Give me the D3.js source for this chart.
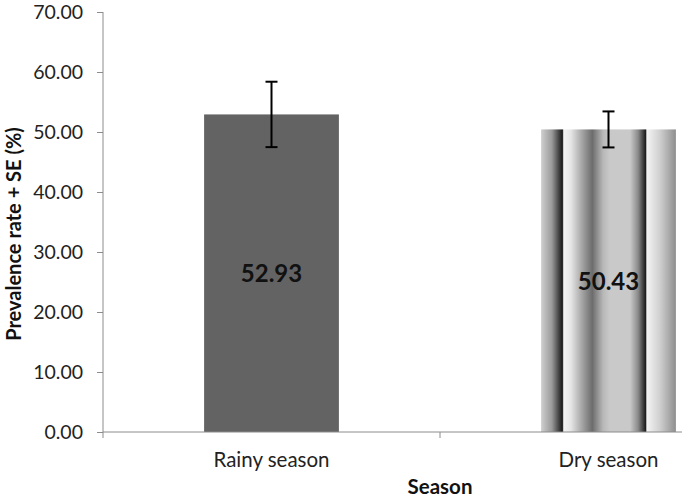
<!DOCTYPE html>
<html><head><meta charset="utf-8">
<script src="https://cdn.jsdelivr.net/npm/d3@7"></script>
<style>body{margin:0;background:#fff}svg{display:block}</style>
</head><body>
<svg id="c" width="682" height="499"></svg>
<script>
const categories = ["Rainy season", "Dry season"];
const values = [52.93, 50.43];
const errors = [5.45, 3.0];
const yTicks = [0, 10, 20, 30, 40, 50, 60, 70];

const svg = d3.select("#c");
const font = "Lato, 'Open Sans', sans-serif";
const x0 = 103, x1 = 777, yBot = 432, yTop = 12;
const x = d3.scaleBand().domain(categories).range([x0, x1]).paddingInner(0.6).paddingOuter(0.3);
const y = d3.scaleLinear().domain([0, 70]).range([yBot, yTop]);

// gradient for dry season bar
const defs = svg.append("defs");
const g = defs.append("linearGradient").attr("id", "dryGrad").attr("x1", "0").attr("x2", "1").attr("y1", "0").attr("y2", "0");
[[0, "#cfcfcf"], [0.08, "#9a9a9a"], [0.15, "#262626"], [0.158, "#1a1a1a"], [0.168, "#f4f4f4"], [0.22, "#e6e6e6"], [0.3, "#a8a8a8"], [0.38, "#6c6c6c"], [0.46, "#b8b8b8"], [0.51, "#c9c9c9"], [0.66, "#c9c9c9"], [0.72, "#8a8a8a"], [0.77, "#262626"], [0.775, "#1e1e1e"], [0.785, "#f4f4f4"], [0.88, "#d0d0d0"], [1, "#8e8e8e"]]
  .forEach(([o, c]) => g.append("stop").attr("offset", o).attr("stop-color", c));

const fills = ["#636363", "url(#dryGrad)"];

// bars
svg.selectAll("rect.bar").data(categories).enter().append("rect")
  .attr("x", d => x(d)).attr("width", x.bandwidth())
  .attr("y", (d, i) => y(values[i])).attr("height", (d, i) => yBot - y(values[i]))
  .attr("fill", (d, i) => fills[i]);

// axes
const axisColor = "#8c8c8c";
const yAxis = svg.append("g").attr("transform", `translate(${x0},0)`)
  .call(d3.axisLeft(y).tickValues(yTicks).tickFormat(d3.format(".2f")).tickSize(6).tickPadding(14));
yAxis.select(".domain").attr("stroke", axisColor).attr("d", `M0,${yTop}V${yBot}`);
yAxis.selectAll(".tick line").attr("stroke", axisColor);
yAxis.selectAll(".tick text").attr("font-family", font).attr("font-size", 19.5).attr("fill", "#222");

const xAxisG = svg.append("g").attr("transform", `translate(0,${yBot})`);
xAxisG.append("line").attr("x1", x0).attr("x2", 682).attr("stroke", axisColor);
xAxisG.selectAll("line.t").data([x0, (x(categories[0]) + x.bandwidth() + x(categories[1])) / 2]).enter().append("line")
  .attr("x1", d => d).attr("x2", d => d).attr("y1", 0).attr("y2", 6).attr("stroke", axisColor);
xAxisG.selectAll("text").data(categories).enter().append("text")
  .attr("x", d => x(d) + x.bandwidth() / 2).attr("y", 35).attr("text-anchor", "middle")
  .attr("font-family", font).attr("font-size", 20.5).attr("fill", "#222").text(d => d);

// error bars
const eb = svg.selectAll("g.err").data(categories).enter().append("g").attr("stroke", "#000").attr("stroke-width", 2);
eb.append("line").attr("x1", d => x(d) + x.bandwidth() / 2).attr("x2", d => x(d) + x.bandwidth() / 2)
  .attr("y1", (d, i) => y(values[i] + errors[i])).attr("y2", (d, i) => y(values[i] - errors[i]));
eb.append("line").attr("x1", d => x(d) + x.bandwidth() / 2 - 6).attr("x2", d => x(d) + x.bandwidth() / 2 + 6)
  .attr("y1", (d, i) => y(values[i] + errors[i])).attr("y2", (d, i) => y(values[i] + errors[i]));
eb.append("line").attr("x1", d => x(d) + x.bandwidth() / 2 - 6).attr("x2", d => x(d) + x.bandwidth() / 2 + 6)
  .attr("y1", (d, i) => y(values[i] - errors[i])).attr("y2", (d, i) => y(values[i] - errors[i]));

// value labels
svg.selectAll("text.val").data(categories).enter().append("text")
  .attr("x", d => x(d) + x.bandwidth() / 2).attr("y", (d, i) => (y(values[i]) + yBot) / 2)
  .attr("dy", "0.38em").attr("text-anchor", "middle")
  .attr("font-family", font).attr("font-weight", "bold").attr("font-size", 24).attr("fill", "#111")
  .text((d, i) => values[i].toFixed(2));

// axis titles
svg.append("text").attr("transform", `translate(21,${(yTop + yBot) / 2 + 12}) rotate(-90)`).attr("text-anchor", "middle")
  .attr("font-family", font).attr("font-weight", "bold").attr("font-size", 20).attr("fill", "#111")
  .text("Prevalence rate + SE (%)");
svg.append("text").attr("x", 440).attr("y", 494).attr("text-anchor", "middle")
  .attr("font-family", font).attr("font-weight", "bold").attr("font-size", 20.5).attr("fill", "#111")
  .text("Season");
</script>
</body></html>
